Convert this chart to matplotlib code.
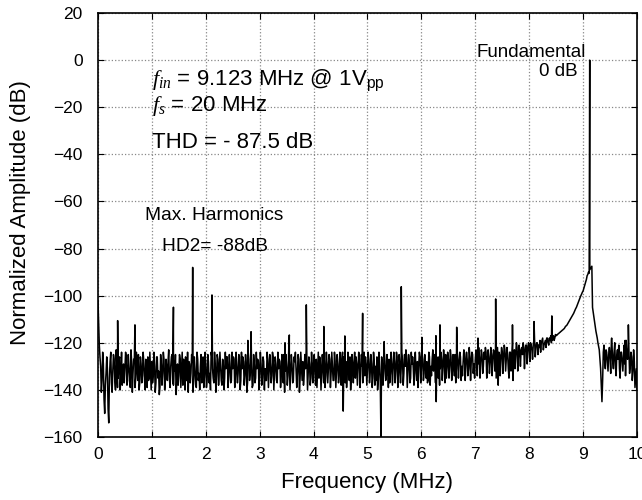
import numpy as np
import matplotlib
matplotlib.use('Agg')
import matplotlib.pyplot as plt

plt.rcParams['font.family'] = ['Liberation Sans', 'DejaVu Sans']
plt.rcParams['mathtext.fontset'] = 'custom'
plt.rcParams['mathtext.it'] = 'Liberation Serif:italic'
plt.rcParams['mathtext.rm'] = 'Liberation Sans'

# --- Data ---
# noise floor, one value every 0.025 MHz from 0 to 10 MHz (dB)
BIN_STEP = 0.025
floor_db = [
    -102, -121, -130, -136, -129, -150, -133, -131, -154, -128, -137, -132, -127, -140, -130, -135, -126, -133, -138, -129,
    -131, -126, -136, -130, -139, -128, -133, -127, -135, -131, -125, -137, -129, -134, -128, -140, -130, -126, -135, -132,
    -128, -134, -130, -137, -126, -132, -139, -129, -133, -127, -136, -131, -128, -135, -130, -125, -138, -132, -142, -129,
    -134, -127, -131, -138, -130, -126, -136, -141, -129, -133, -128, -135, -131, -139, -127, -133, -130, -137, -126, -134,
    -130, -136, -128, -133, -124, -131, -137, -129, -134, -127, -132, -130, -138, -128, -135, -131, -126, -134, -129, -136,
    -131, -127, -135, -130, -133, -126, -136, -131, -128, -134, -129, -137, -127, -133, -130, -138, -129, -135, -131, -128,
    -133, -129, -135, -128, -131, -136, -127, -132, -130, -134, -126, -133, -129, -137, -131, -128, -134, -130, -125, -132,
    -130, -134, -127, -132, -129, -136, -128, -131, -133, -127, -135, -130, -128, -134, -131, -126, -133, -129, -135, -130,
    -129, -133, -127, -131, -135, -128, -132, -130, -126, -134, -129, -131, -127, -133, -130, -136, -128, -132, -129, -134,
    -130, -127, -149, -131, -128, -133, -129, -126, -134, -130, -128, -135, -129, -131, -127, -133, -130, -128, -134, -129,
    -131, -127, -133, -129, -135, -128, -130, -126, -136, -130, -160, -129, -132, -128, -134, -130, -127, -133, -129, -131,
    -128, -132, -126, -134, -129, -131, -127, -133, -130, -126, -132, -128, -135, -129, -131, -127, -133, -128, -130, -126,
    -131, -127, -133, -129, -128, -136, -126, -130, -127, -132, -128, -145, -129, -126, -131, -127, -130, -128, -125, -131,
    -127, -130, -126, -132, -128, -125, -131, -127, -129, -126, -130, -128, -125, -129, -127, -131, -126, -128, -125, -129,
    -127, -124, -129, -126, -128, -125, -130, -127, -124, -128, -126, -129, -125, -127, -124, -126, -128, -138, -125, -127,
    -124, -126, -123, -127, -125, -135, -124, -126, -136, -123, -125, -122, -126, -124, -123, -125, -122, -124, -121, -123,
    -122, -120, -123, -121, -119, -122, -120, -121, -119, -120, -118, -121, -119, -118, -120, -118, -117, -119, -117, -118,
    -117, -116.5, -116, -115.5, -115, -114.5, -114, -113, -112.5, -111.5, -110.5, -109.5, -108.5, -107.5, -106, -105, -103.5, -102, -100.5, -99,
    -98, -96, -94, -91.5, -90, -89, -88, -105, -109, -113, -116.5, -120, -123, -131, -145, -124, -127, -123, -128, -125,
    -126, -119, -128, -124, -130, -125, -127, -131, -124, -128, -126, -129, -119, -127, -123, -130, -126, -132, -128, -135,
    -140,
]

# in-between bins (offset by half a step), gives the dense look of the floor
floor_db_mid = [
    -112, -126, -141, -124, -144, -138, -126, -148, -135, -124, -141, -125, -136, -123, -139, -128, -140, -124, -135, -137,
    -124, -138, -125, -134, -123, -141, -127, -139, -124, -136, -140, -126, -137, -124, -135, -127, -139, -136, -124, -140,
    -137, -124, -141, -126, -135, -142, -125, -138, -124, -140, -127, -136, -123, -139, -126, -137, -128, -125, -136, -138,
    -125, -139, -124, -127, -140, -136, -124, -128, -137, -125, -141, -126, -138, -124, -136, -140, -125, -127, -139, -124,
    -139, -125, -137, -140, -126, -135, -124, -141, -125, -138, -124, -136, -127, -140, -124, -126, -139, -125, -137, -124,
    -126, -139, -124, -137, -125, -140, -124, -126, -138, -125, -141, -124, -136, -127, -139, -125, -137, -124, -127, -140,
    -124, -138, -126, -140, -136, -124, -139, -125, -137, -124, -140, -126, -136, -124, -127, -139, -125, -137, -141, -125,
    -138, -124, -140, -125, -137, -126, -124, -139, -125, -141, -124, -136, -138, -125, -123, -140, -126, -138, -124, -137,
    -125, -138, -139, -124, -126, -140, -125, -137, -139, -124, -137, -125, -139, -124, -136, -124, -139, -125, -137, -124,
    -138, -124, -126, -137, -139, -124, -136, -140, -125, -137, -124, -126, -138, -124, -139, -125, -137, -124, -126, -138,
    -124, -137, -125, -139, -124, -138, -136, -140, -124, -137, -126, -138, -124, -136, -125, -139, -137, -124, -138, -124,
    -137, -124, -139, -125, -137, -124, -138, -125, -123, -139, -125, -137, -124, -126, -138, -124, -136, -139, -124, -137,
    -124, -136, -125, -135, -137, -124, -138, -134, -123, -125, -137, -126, -135, -138, -124, -136, -123, -137, -135, -124,
    -135, -123, -136, -125, -134, -137, -123, -135, -124, -136, -134, -123, -136, -124, -134, -122, -136, -124, -133, -135,
    -123, -134, -122, -135, -123, -133, -124, -122, -135, -123, -133, -122, -134, -123, -132, -135, -122, -124, -134, -122,
    -133, -121, -132, -122, -131, -124, -132, -121, -126, -131, -120, -132, -121, -130, -122, -120, -131, -121, -129, -120,
    -128, -121, -127, -119, -126, -120, -125, -122, -124, -119, -123, -120, -122, -118, -121, -119, -120, -118, -119, -116.5,
    -116.8, -116.2, -115.7, -115.2, -114.7, -114.2, -113.5, -112.8, -112, -111, -110, -109, -108, -106.8, -105.5, -104.2, -102.8, -101.2, -99.8, -98.5,
    -97, -95, -93, -91, -90.5, -88.5, -87.5, -107, -111, -115, -118, -121.5, -127, -138, -136, -121, -131, -124, -132, -122,
    -133, -122, -131, -120, -134, -123, -121, -135, -124, -132, -121, -134, -125, -122, -133, -124, -136, -123, -139, -131,
]

# spurs and the fundamental (MHz, dB)
spur_freq = [0.365, 0.686, 1.40, 1.757, 2.115, 2.78, 2.84, 3.47, 3.55, 3.865,
             4.19, 4.58, 4.91, 5.31, 5.627, 6.01, 6.27, 6.345, 6.655, 7.05,
             7.378, 7.69, 8.09, 8.42, 9.123, 9.53, 9.78, 9.84]
spur_db = [-110.6, -112.4, -104.9, -88, -99.7, -119, -115.3, -120, -116.7, -103.9,
           -113.1, -117.1, -107.5, -119.5, -96.2, -117.7, -117, -112.4, -113.4, -118,
           -101.4, -112.4, -111, -108.6, 0, -118, -119, -112.4]

x_ticks = [0, 1, 2, 3, 4, 5, 6, 7, 8, 9, 10]
y_ticks = [-160, -140, -120, -100, -80, -60, -40, -20, 0, 20]

# merge floor bins and spurs into one trace
floor_freq = np.arange(len(floor_db)) * BIN_STEP
mid_freq = BIN_STEP / 2 + np.arange(len(floor_db_mid)) * BIN_STEP
freq = np.concatenate([floor_freq, mid_freq, spur_freq])
amp = np.concatenate([floor_db, floor_db_mid, spur_db])
order = np.argsort(freq, kind='stable')
freq, amp = freq[order], amp[order]

fig = plt.figure(figsize=(6.42, 5.0), dpi=100)
ax = fig.add_axes([0.1526, 0.126, 0.8396, 0.848])

ax.plot(freq, amp, color='black', lw=1.1)

ax.set_xlim(0, 10)
ax.set_ylim(-160, 20)
ax.set_xticks(x_ticks)
ax.set_yticks(y_ticks)
ax.tick_params(direction='in', top=True, right=True, labelsize=12.5, length=4)
ax.tick_params(axis='y', pad=11)
ax.tick_params(axis='x', pad=7)
ax.grid(True, linestyle=':', color='#888888', lw=0.9)
for s in ax.spines.values():
    s.set_linewidth(1.2)

ax.set_xlabel('Frequency (MHz)', fontsize=16)
ax.set_ylabel('Normalized Amplitude (dB)', fontsize=16)
ax.xaxis.set_label_coords(0.5, -0.083)
ax.yaxis.set_label_coords(-0.124, 0.53)

# annotations
ax.text(1.0, -8.5, r'$\mathit{f_{in}}$ = 9.123 MHz @ 1V$_{\mathrm{pp}}$', fontsize=16, va='center')
ax.text(1.0, -19.5, r'$\mathit{f_s}$ = 20 MHz', fontsize=16, va='center')
ax.text(1.0, -35, 'THD = - 87.5 dB', fontsize=16, va='center')
ax.text(0.88, -66, 'Max. Harmonics', fontsize=13.8, va='center')
ax.text(1.18, -79, 'HD2= -88dB', fontsize=13.8, va='center')
ax.text(9.05, 3.2, 'Fundamental', fontsize=13.5, va='center', ha='right')
ax.text(8.9, -5, '0 dB', fontsize=13.5, va='center', ha='right')

fig.savefig('out.png', dpi=100, facecolor='white')
